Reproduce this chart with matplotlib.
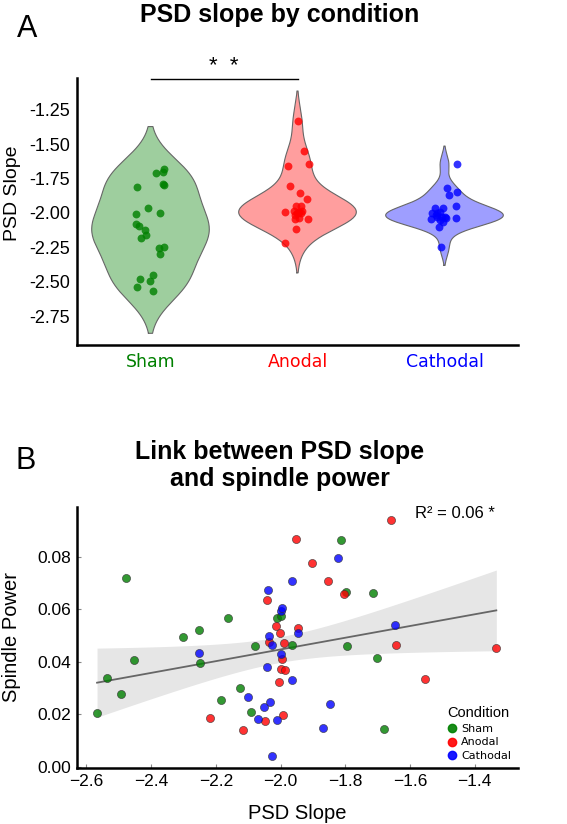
import numpy as np
import matplotlib.pyplot as plt
from matplotlib.lines import Line2D

plt.rcParams['font.family'] = ['Liberation Sans', 'DejaVu Sans']

conditions = ['Sham', 'Anodal', 'Cathodal']
colors = ['green', 'red', 'blue']

# PSD slope, spindle power and strip-plot jitter for each subject
sham_slope = [-2.567, -2.536, -2.494, -2.479, -2.452, -2.302, -2.253, -2.250, -2.185, -2.163, -2.126,
              -2.092, -2.078, -2.011, -2.000, -1.966, -1.812, -1.798, -1.793, -1.713, -1.701, -1.681]
sham_power = [0.0204, 0.0339, 0.0278, 0.0719, 0.0406, 0.0495, 0.0522, 0.0395, 0.0256, 0.0569, 0.0302,
              0.0209, 0.0461, 0.0569, 0.0574, 0.0463, 0.0864, 0.0666, 0.0462, 0.0664, 0.0416, 0.0145]
sham_jitter = [0.016, -0.093, -0.005, -0.070, 0.016, 0.063, 0.057, 0.091, -0.068, -0.034, -0.039,
               -0.079, -0.098, -0.100, 0.068, -0.020, -0.095, 0.091, 0.082, 0.039, 0.086, 0.091]

anodal_slope = [-2.217, -2.116, -2.047, -2.043, -2.036, -2.014, -2.004, -2.003, -2.000, -1.996, -1.993,
                -1.989, -1.985, -1.953, -1.947, -1.902, -1.852, -1.803, -1.659, -1.644, -1.554, -1.333]
anodal_power = [0.0188, 0.0140, 0.0174, 0.0635, 0.0476, 0.0536, 0.0324, 0.0509, 0.0373, 0.0413, 0.0197,
                0.0472, 0.0371, 0.0867, 0.0529, 0.0775, 0.0708, 0.0660, 0.0941, 0.0466, 0.0334, 0.0454]
anodal_jitter = [-0.082, -0.007, -0.018, 0.070, 0.010, -0.020, 0.005, -0.005, 0.023, 0.012, -0.088,
                 -0.027, 0.030, -0.011, 0.023, 0.068, 0.016, -0.050, -0.063, 0.075, 0.041, 0.002]

cathodal_slope = [-2.251, -2.101, -2.069, -2.050, -2.041, -2.040, -2.036, -2.033, -2.027, -2.027, -2.012,
                  -2.000, -1.998, -1.995, -1.963, -1.963, -1.947, -1.870, -1.848, -1.822, -1.645]
cathodal_power = [0.0434, 0.0265, 0.0182, 0.0230, 0.0382, 0.0673, 0.0497, 0.0249, 0.0464, 0.0042, 0.0177,
                  0.0432, 0.0593, 0.0607, 0.0710, 0.0332, 0.0512, 0.0149, 0.0238, 0.0795, 0.0539]
cathodal_jitter = [-0.023, -0.039, -0.010, -0.029, -0.093, 0.009, 0.079, -0.052, -0.020, 0.000, -0.060,
                   -0.048, -0.084, -0.030, -0.007, -0.063, 0.079, 0.032, 0.088, 0.020, 0.086]

slopes = [sham_slope, anodal_slope, cathodal_slope]
powers = [sham_power, anodal_power, cathodal_power]
jitters = [sham_jitter, anodal_jitter, cathodal_jitter]


def kde_curve(vals, cut=2, gridsize=200):
    vals = np.asarray(vals)
    bw = vals.std(ddof=1) * len(vals) ** (-1 / 5)
    grid = np.linspace(vals.min() - cut * bw, vals.max() + cut * bw, gridsize)
    dens = np.exp(-0.5 * ((grid[:, None] - vals[None, :]) / bw) ** 2).sum(axis=1)
    return grid, dens / dens.max()


fig = plt.figure(figsize=(5.67, 8.24), dpi=100)
W, H = 567, 824
axA = fig.add_axes([77 / W, 1 - 345 / H, 441 / W, 267 / H])
axB = fig.add_axes([77 / W, 1 - 768 / H, 441 / W, 261 / H])

# ---- panel A: violins + strip
for i, (s, j, c) in enumerate(zip(slopes, jitters, colors)):
    grid, d = kde_curve(s)
    axA.fill_betweenx(grid, i - 0.4 * d, i + 0.4 * d, facecolor=c, alpha=0.38, edgecolor='none')
    axA.plot(np.r_[i - 0.4 * d, (i + 0.4 * d)[::-1], i - 0.4 * d[0]],
             np.r_[grid, grid[::-1], grid[0]], color='#666666', lw=0.8)
    axA.scatter(i + np.asarray(j), s, s=32, color=c, alpha=0.8, lw=0, zorder=3)

axA.set_xlim(-0.5, 2.5)
axA.set_ylim(-2.96, -1.02)
yt = [-1.25, -1.5, -1.75, -2.0, -2.25, -2.5, -2.75]
axA.set_yticks(yt)
axA.set_yticklabels(['%.2f' % v for v in yt], fontsize=13)
axA.set_xticks(range(3))
axA.set_xticklabels(conditions, fontsize=12.5, family='DejaVu Sans')
for lab, c in zip(axA.get_xticklabels(), colors):
    lab.set_color(c)
axA.tick_params(length=0, pad=5)
axA.tick_params(axis='x', pad=6)
axA.set_ylabel('PSD Slope', fontsize=14)
axA.yaxis.set_label_coords(-0.127, 0.57)
for side in ['top', 'right']:
    axA.spines[side].set_visible(False)
for side in ['left', 'bottom']:
    axA.spines[side].set_linewidth(1.8)

axA.plot([0, 1], [-1.025, -1.025], color='black', lw=1, clip_on=False)
axA.text(0.5, -1.015, '*  *', ha='center', va='bottom', fontsize=16)

# ---- panel B: scatter + regression
for s, p, c in zip(slopes, powers, colors):
    axB.scatter(s, p, s=34, color=c, alpha=0.8, edgecolor='#333333', linewidth=0.5, zorder=3)

x = np.concatenate([np.asarray(s) for s in slopes])
y = np.concatenate([np.asarray(p) for p in powers])
b1, b0 = np.polyfit(x, y, 1)
xs = np.linspace(x.min(), x.max(), 100)
n = len(x)
resid = y - (b0 + b1 * x)
se = np.sqrt(np.sum(resid ** 2) / (n - 2))
sxx = np.sum((x - x.mean()) ** 2)
half = 1.998 * se * np.sqrt(1 / n + (xs - x.mean()) ** 2 / sxx)
fit = b0 + b1 * xs
axB.fill_between(xs, fit - half, fit + half, color='#e6e6e6', lw=0, zorder=1)
axB.plot(xs, fit, color='#666666', lw=1.3, zorder=2)

axB.set_xlim(-2.629, -1.266)
axB.set_ylim(-0.0004, 0.099)
axB.set_xticks(np.arange(-2.6, -1.39, 0.2))
axB.set_yticks(np.arange(0, 0.081, 0.02))
axB.yaxis.set_major_formatter(plt.FormatStrFormatter('%.2f'))
axB.xaxis.set_major_formatter(plt.FuncFormatter(lambda v, _: ('%.1f' % v).replace('-', '\u2212')))
axB.tick_params(direction='in', length=3, color='#888888', labelsize=12.5, pad=4)
axB.set_xlabel('PSD Slope', fontsize=14.5, labelpad=11)
axB.set_ylabel('Spindle Power', fontsize=14.5, labelpad=12)
for side in ['top', 'right']:
    axB.spines[side].set_visible(False)
for side in ['left', 'bottom']:
    axB.spines[side].set_linewidth(1.8)

axB.text(495 / W, 1 - 518 / H, 'R\u00b2 = 0.06 *', transform=fig.transFigure,
         ha='right', va='baseline', fontsize=12)

handles = [Line2D([], [], marker='o', ls='', color=c, markersize=6, alpha=0.9) for c in colors]
leg = axB.legend(handles, conditions, title='Condition', loc='lower right', frameon=False,
                 fontsize=8, title_fontsize=10.5, handletextpad=0.2, labelspacing=0.35,
                 borderaxespad=0.2, handlelength=1.2, bbox_to_anchor=(1.0, 0.0))
for t in leg.get_texts():
    t.set_family('DejaVu Sans')

# ---- titles and panel letters
fig.text(280 / W, 1 - 22 / H, 'PSD slope by condition', ha='center', va='baseline',
         fontsize=18, fontweight='bold')
fig.text(280 / W, 1 - 486 / H, 'Link between PSD slope\nand spindle power', ha='center',
         va='baseline', fontsize=18, fontweight='bold', linespacing=1.15)
fig.text(17 / W, 1 - 37 / H, 'A', fontsize=22, va='baseline')
fig.text(15 / W, 1 - 469 / H, 'B', fontsize=22, va='baseline')

fig.savefig('out.png', dpi=100)
